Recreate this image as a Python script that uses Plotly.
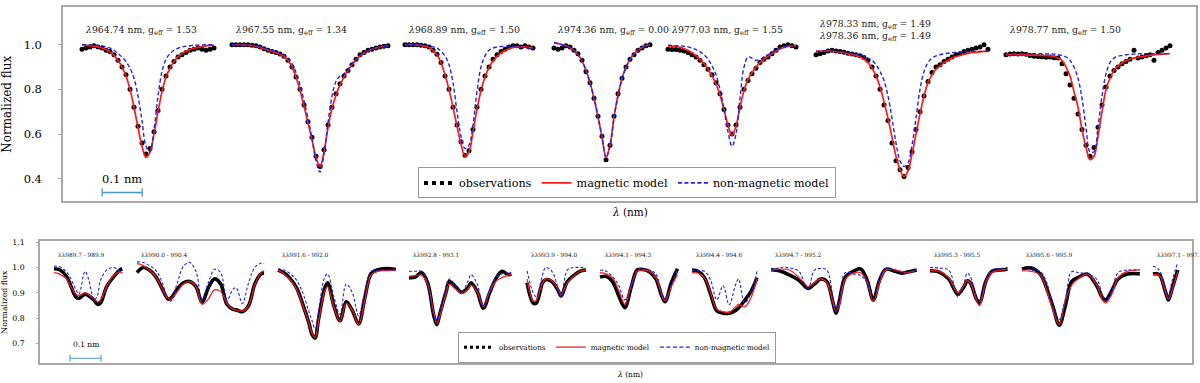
import plotly.graph_objects as go

# ---------------- DATA ----------------
# Top panel: individual lines, sampled every 0.01 nm from a start wavelength
TOP_LINES = [[("964.74", "1.53")], [("967.55", "1.34")], [("968.89", "1.50")],
             [("974.36", "0.00")], [("977.03", "1.55")],
             [("978.33", "1.49"), ("978.36", "1.49")], [("978.77", "1.50")]]
TOP_WL0 = [964.58, 967.335, 968.74, 974.2275, 976.87, 978.125, 978.5575]
TOP_STEP = 0.01

TOP_OBS = [
    [0.98, 0.985, 0.99, 0.995, 0.99, 0.985, 0.975, 0.97, 0.955, 0.93, 0.90, 0.865, 0.80, 0.72, 0.635, 0.56, 0.51,
     0.535, 0.61, 0.705, 0.80, 0.86, 0.90, 0.925, 0.945, 0.955, 0.965, 0.975, 0.98, 0.985, 0.98, 0.975, 0.98, 0.985],
    [1.0, 1.0, 1.0, 1.0, 1.0, 0.998, 0.995, 0.99, 0.982, 0.975, 0.97, 0.965, 0.958, 0.948, 0.93, 0.90, 0.855, 0.80,
     0.73, 0.655, 0.585, 0.50, 0.455, 0.53, 0.64, 0.72, 0.78, 0.825, 0.86, 0.885, 0.91, 0.935, 0.955, 0.965, 0.975,
     0.98, 0.985, 0.99, 0.993, 0.995],
    [1.0, 1.0, 1.0, 1.0, 0.998, 0.995, 0.99, 0.975, 0.957, 0.92, 0.86, 0.80, 0.72, 0.64, 0.565, 0.505, 0.525, 0.62,
     0.72, 0.80, 0.86, 0.90, 0.935, 0.955, 0.97, 0.98, 0.99, 0.995, 0.995, 0.99, 0.995, 0.99, 0.985],
    [0.985, 0.98, 0.985, 0.995, 0.99, 0.975, 0.96, 0.93, 0.88, 0.83, 0.76, 0.68, 0.59, 0.485, 0.55, 0.68, 0.78, 0.85,
     0.90, 0.935, 0.955, 0.975, 0.985, 0.995, 1.0],
    [0.98, 0.978, 0.978, 0.975, 0.972, 0.965, 0.955, 0.945, 0.93, 0.91, 0.89, 0.865, 0.83, 0.78, 0.71, 0.64, 0.60,
     0.64, 0.72, 0.80, 0.84, 0.87, 0.895, 0.92, 0.935, 0.945, 0.96, 0.975, 0.99, 0.995, 1.0, 0.995, 0.99],
    [0.955, 0.96, 0.965, 0.972, 0.975, 0.972, 0.97, 0.966, 0.962, 0.958, 0.955, 0.95, 0.943, 0.93, 0.90, 0.86, 0.80,
     0.73, 0.66, 0.56, 0.48, 0.44, 0.41, 0.45, 0.52, 0.62, 0.70, 0.77, 0.835, 0.875, 0.90, 0.91, 0.925, 0.935, 0.945,
     0.955, 0.96, 0.97, 0.975, 0.98, 0.985, 0.99, 1.0, 0.98],
    [0.955, 0.958, 0.96, 0.958, 0.96, 0.957, 0.952, 0.948, 0.947, 0.946, 0.944, 0.945, 0.942, 0.94, 0.915, 0.87, 0.82,
     0.76, 0.69, 0.62, 0.55, 0.50, 0.54, 0.63, 0.73, 0.81, 0.86, 0.885, 0.90, 0.915, 0.925, 0.935, 0.975, 0.94, 0.945,
     0.95, 0.955, 0.93, 0.965, 0.975, 0.985, 0.995],
]
TOP_MAG = [
    [1.0, 0.998, 0.996, 0.993, 0.99, 0.985, 0.978, 0.968, 0.952, 0.93, 0.90, 0.86, 0.80, 0.72, 0.63, 0.545, 0.495,
     0.52, 0.60, 0.70, 0.79, 0.855, 0.895, 0.925, 0.945, 0.96, 0.97, 0.978, 0.984, 0.988, 0.992, 0.995, 0.997, 0.998],
    [1.0, 1.0, 1.0, 0.999, 0.998, 0.996, 0.993, 0.988, 0.982, 0.976, 0.97, 0.964, 0.957, 0.947, 0.93, 0.90, 0.855,
     0.795, 0.725, 0.65, 0.575, 0.495, 0.455, 0.52, 0.63, 0.715, 0.775, 0.82, 0.855, 0.885, 0.91, 0.932, 0.95, 0.963,
     0.972, 0.979, 0.985, 0.989, 0.992, 0.994],
    [1.0, 1.0, 1.0, 0.999, 0.997, 0.993, 0.987, 0.975, 0.955, 0.92, 0.865, 0.80, 0.72, 0.635, 0.555, 0.50, 0.52, 0.61,
     0.71, 0.795, 0.855, 0.897, 0.927, 0.948, 0.963, 0.974, 0.982, 0.988, 0.99, 0.99, 0.99, 0.988, 0.985],
    [1.01, 1.005, 1.0, 0.995, 0.985, 0.972, 0.955, 0.928, 0.885, 0.83, 0.76, 0.675, 0.585, 0.495, 0.55, 0.675, 0.775,
     0.85, 0.90, 0.935, 0.958, 0.975, 0.987, 0.995, 1.0],
    [0.995, 0.994, 0.992, 0.988, 0.982, 0.974, 0.964, 0.95, 0.935, 0.915, 0.89, 0.86, 0.825, 0.775, 0.71, 0.64, 0.595,
     0.635, 0.72, 0.795, 0.845, 0.875, 0.90, 0.92, 0.935, 0.948, 0.96, 0.972, 0.982, 0.988, 0.993, 0.995, 0.996],
    [0.97, 0.971, 0.972, 0.972, 0.971, 0.969, 0.967, 0.964, 0.96, 0.956, 0.951, 0.945, 0.935, 0.92, 0.895, 0.86, 0.81,
     0.745, 0.67, 0.585, 0.50, 0.44, 0.41, 0.435, 0.51, 0.60, 0.69, 0.77, 0.83, 0.865, 0.89, 0.905, 0.92, 0.93, 0.94,
     0.947, 0.952, 0.957, 0.961, 0.964, 0.966, 0.968, 0.97, 0.97],
    [0.955, 0.955, 0.955, 0.955, 0.954, 0.954, 0.953, 0.953, 0.952, 0.952, 0.951, 0.95, 0.947, 0.94, 0.93, 0.90, 0.86,
     0.79, 0.72, 0.62, 0.54, 0.485, 0.50, 0.59, 0.70, 0.80, 0.85, 0.885, 0.905, 0.918, 0.928, 0.935, 0.94, 0.944,
     0.947, 0.95, 0.952, 0.954, 0.956, 0.958, 0.959, 0.96],
]
TOP_NONMAG = [
    [1.0, 1.0, 0.999, 0.998, 0.997, 0.995, 0.99, 0.985, 0.975, 0.96, 0.945, 0.925, 0.895, 0.85, 0.77, 0.66, 0.545,
     0.52, 0.62, 0.77, 0.88, 0.935, 0.96, 0.975, 0.984, 0.99, 0.993, 0.995, 0.997, 0.998, 0.999, 1.0, 1.0, 1.0],
    [1.0, 1.0, 1.0, 0.999, 0.998, 0.997, 0.995, 0.991, 0.986, 0.98, 0.975, 0.97, 0.963, 0.955, 0.94, 0.915, 0.875,
     0.82, 0.75, 0.67, 0.58, 0.48, 0.43, 0.51, 0.65, 0.77, 0.835, 0.86, 0.87, 0.89, 0.915, 0.935, 0.952, 0.964, 0.973,
     0.98, 0.985, 0.989, 0.992, 0.994],
    [1.0, 1.0, 1.0, 1.0, 0.999, 0.998, 0.996, 0.99, 0.985, 0.97, 0.95, 0.91, 0.83, 0.70, 0.59, 0.535, 0.55, 0.64, 0.79,
     0.90, 0.95, 0.975, 0.985, 0.99, 0.992, 0.993, 0.993, 0.993, 0.992, 0.99, 0.988, 0.985, 0.982],
    [1.01, 1.005, 1.0, 0.995, 0.985, 0.972, 0.955, 0.928, 0.885, 0.83, 0.762, 0.68, 0.59, 0.495, 0.545, 0.67, 0.77,
     0.845, 0.897, 0.933, 0.957, 0.975, 0.987, 0.995, 1.0],
    [0.998, 0.997, 0.996, 0.995, 0.993, 0.99, 0.985, 0.978, 0.968, 0.955, 0.935, 0.905, 0.865, 0.80, 0.71, 0.61, 0.545,
     0.60, 0.76, 0.90, 0.945, 0.94, 0.93, 0.935, 0.945, 0.955, 0.965, 0.975, 0.985, 0.99, 0.993, 0.995, 0.996],
    [0.97, 0.971, 0.972, 0.972, 0.971, 0.97, 0.969, 0.967, 0.965, 0.962, 0.958, 0.955, 0.95, 0.94, 0.93, 0.91, 0.88,
     0.84, 0.77, 0.67, 0.56, 0.48, 0.455, 0.47, 0.55, 0.67, 0.80, 0.88, 0.92, 0.94, 0.95, 0.955, 0.959, 0.962, 0.964,
     0.966, 0.967, 0.968, 0.969, 0.97, 0.97, 0.97, 0.97, 0.97],
    [0.96, 0.96, 0.96, 0.96, 0.96, 0.96, 0.96, 0.96, 0.96, 0.96, 0.959, 0.958, 0.958, 0.955, 0.952, 0.945, 0.93, 0.90,
     0.85, 0.76, 0.63, 0.52, 0.52, 0.63, 0.77, 0.87, 0.92, 0.94, 0.948, 0.952, 0.955, 0.957, 0.958, 0.959, 0.96, 0.96,
     0.96, 0.96, 0.96, 0.96, 0.96, 0.96],
]

# Bottom panel: blended windows; knots given in units of 0.01 nm from the window start
BOT_RANGES = ["989.7 - 989.9", "990.0 - 990.4", "991.6 - 992.0", "992.8 - 993.1", "993.9 - 994.0",
              "994.1 - 994.3", "994.4 - 994.6", "994.7 - 995.2", "995.3 - 995.5", "995.6 - 995.9",
              "997.1 - 997.1"]
BOT_WL0 = [989.69, 989.99, 991.61, 992.79, 993.86, 994.07, 994.39, 994.72, 995.27, 995.58, 997.07]
BOT_K = [
    [0, 2, 4, 5, 7, 8, 10, 11, 13, 14, 15, 17, 19, 21, 22],
    [0, 2, 4, 6, 8, 10, 11, 13, 15, 17, 19, 21, 23, 25, 27, 29, 31, 32, 34, 36, 38, 40, 41],
    [0, 2, 4, 6, 8, 10, 11, 12, 13, 15, 16, 18, 20, 22, 24, 26, 28, 30, 32, 35, 38],
    [0, 2, 4, 6, 8, 9, 10, 12, 13, 15, 17, 19, 20, 22, 24, 26, 28, 30, 32, 33],
    [0, 2, 3, 5, 6, 8, 10, 11, 13, 15, 17, 19],
    [0, 2, 4, 6, 8, 10, 12, 14, 16, 18, 20, 21, 23, 25],
    [0, 2, 4, 6, 8, 10, 12, 14, 15, 17, 19, 21],
    [0, 3, 6, 9, 11, 12, 14, 16, 18, 20, 21, 22, 24, 27, 29, 31, 33, 35, 37, 40, 42, 44, 47],
    [0, 3, 6, 8, 9, 11, 12, 13, 15, 16, 18, 20, 23, 25],
    [0, 3, 6, 8, 10, 12, 14, 16, 18, 21, 24, 26, 27, 29, 31, 34, 38],
    [0, 2, 4, 5, 6, 8],
]
BOT_OBS = [
    [0.995, 0.99, 0.965, 0.94, 0.885, 0.878, 0.895, 0.89, 0.87, 0.855, 0.86, 0.925, 0.96, 0.988, 0.995],
    [0.98, 1.0, 0.99, 0.965, 0.92, 0.876, 0.88, 0.915, 0.94, 0.945, 0.925, 0.862, 0.92, 0.955, 0.935, 0.855, 0.835,
     0.833, 0.826, 0.85, 0.935, 0.975, 0.978],
    [0.99, 0.978, 0.955, 0.92, 0.855, 0.78, 0.735, 0.722, 0.79, 0.915, 0.94, 0.85, 0.79, 0.865, 0.83, 0.778, 0.88,
     0.975, 0.99, 0.996, 0.992],
    [0.96, 0.962, 0.98, 0.94, 0.81, 0.775, 0.82, 0.905, 0.945, 0.925, 0.902, 0.92, 0.94, 0.905, 0.84, 0.9, 0.955,
     0.985, 0.972, 0.975],
    [0.94, 0.86, 0.86, 0.94, 0.952, 0.945, 0.91, 0.888, 0.945, 0.968, 0.985, 0.99],
    [0.962, 0.965, 0.945, 0.89, 0.842, 0.92, 0.99, 0.992, 0.982, 0.955, 0.885, 0.865, 0.94, 0.995],
    [0.99, 0.985, 0.96, 0.895, 0.83, 0.82, 0.82, 0.83, 0.84, 0.87, 0.905, 0.96],
    [0.991, 0.986, 0.97, 0.95, 0.925, 0.917, 0.935, 0.955, 0.945, 0.86, 0.82, 0.865, 0.962, 0.988, 0.994, 0.95, 0.872,
     0.95, 0.993, 0.985, 0.978, 0.982, 0.99],
    [0.987, 0.982, 0.955, 0.91, 0.895, 0.925, 0.947, 0.94, 0.875, 0.86, 0.945, 0.985, 0.99, 0.993],
    [0.994, 0.998, 0.972, 0.917, 0.845, 0.773, 0.85, 0.945, 0.96, 0.974, 0.93, 0.88, 0.872, 0.91, 0.955, 0.974, 0.975],
    [0.974, 0.972, 0.905, 0.872, 0.91, 0.99],
]
BOT_MAG = [
    [0.98, 0.973, 0.955, 0.935, 0.895, 0.89, 0.9, 0.895, 0.875, 0.865, 0.872, 0.925, 0.965, 0.983, 0.977],
    [1.015, 1.008, 0.99, 0.965, 0.92, 0.878, 0.877, 0.905, 0.935, 0.945, 0.925, 0.855, 0.875, 0.912, 0.905, 0.86,
     0.835, 0.833, 0.828, 0.85, 0.93, 0.98, 0.987],
    [0.99, 0.975, 0.95, 0.915, 0.85, 0.78, 0.74, 0.725, 0.78, 0.905, 0.925, 0.845, 0.788, 0.86, 0.83, 0.775, 0.87,
     0.97, 0.985, 0.988, 0.99],
    [0.965, 0.968, 0.97, 0.935, 0.82, 0.78, 0.81, 0.9, 0.935, 0.915, 0.898, 0.915, 0.93, 0.905, 0.845, 0.905, 0.945,
     0.96, 0.97, 0.975],
    [0.955, 0.868, 0.87, 0.94, 0.955, 0.948, 0.915, 0.892, 0.94, 0.965, 0.985, 0.99],
    [0.98, 0.975, 0.96, 0.91, 0.855, 0.925, 0.985, 0.99, 0.985, 0.96, 0.89, 0.87, 0.925, 0.972],
    [0.98, 0.978, 0.96, 0.9, 0.835, 0.826, 0.822, 0.845, 0.855, 0.845, 0.88, 0.955],
    [0.99, 0.994, 0.99, 0.96, 0.935, 0.925, 0.94, 0.955, 0.94, 0.86, 0.828, 0.85, 0.955, 0.98, 0.978, 0.945, 0.865,
     0.94, 0.99, 0.99, 0.985, 0.98, 0.99],
    [0.987, 0.985, 0.96, 0.915, 0.9, 0.93, 0.948, 0.94, 0.87, 0.85, 0.94, 0.98, 0.99, 0.993],
    [0.987, 0.985, 0.97, 0.91, 0.83, 0.776, 0.87, 0.93, 0.955, 0.974, 0.935, 0.87, 0.86, 0.895, 0.96, 0.985, 0.991],
    [0.972, 0.97, 0.905, 0.875, 0.905, 0.985],
]
BOT_NONMAG = [
    [1.006, 1.002, 0.983, 0.965, 0.915, 0.895, 0.985, 0.96, 0.872, 0.89, 0.95, 0.99, 1.0, 0.99, 0.978],
    [1.022, 1.02, 1.008, 0.99, 0.945, 0.875, 0.868, 0.94, 1.005, 1.02, 0.985, 0.87, 0.94, 0.993, 0.98, 0.87, 0.915,
     0.92, 0.858, 0.94, 1.0, 1.017, 1.015],
    [0.995, 0.99, 0.975, 0.95, 0.9, 0.825, 0.79, 0.755, 0.82, 0.96, 0.975, 0.885, 0.815, 0.935, 0.9, 0.81, 0.905,
     0.985, 0.99, 0.99, 0.99],
    [0.985, 0.985, 0.985, 0.94, 0.81, 0.785, 0.83, 0.925, 0.955, 0.93, 0.905, 0.945, 0.972, 0.935, 0.85, 0.91, 0.96,
     0.975, 0.978, 0.98],
    [0.987, 0.9, 0.885, 0.97, 1.0, 0.985, 0.92, 0.885, 0.99, 1.0, 1.0, 1.0],
    [0.99, 0.985, 0.965, 0.93, 0.872, 0.93, 0.99, 0.995, 0.99, 0.975, 0.895, 0.875, 0.93, 0.99],
    [0.99, 0.988, 0.985, 0.95, 0.872, 0.928, 0.853, 0.93, 0.955, 0.86, 0.9, 0.985],
    [0.987, 1.0, 0.998, 0.985, 0.93, 0.912, 0.99, 0.996, 0.99, 0.88, 0.827, 0.87, 0.98, 0.974, 0.968, 0.94, 0.872,
     0.96, 0.994, 0.99, 0.974, 0.98, 0.99],
    [1.0, 0.998, 0.99, 0.92, 0.883, 0.94, 0.978, 0.965, 0.885, 0.865, 0.95, 0.99, 0.997, 1.0],
    [0.994, 0.99, 0.983, 0.94, 0.85, 0.795, 0.875, 0.983, 0.98, 0.974, 0.955, 0.89, 0.865, 0.91, 0.98, 0.99, 0.99],
    [1.006, 0.99, 0.92, 0.878, 0.94, 1.02],
]
SCALE_NM = 0.1
LEGEND_NAMES = ["observations", "magnetic model", "non-magnetic model"]

# ---------------- LAYOUT (placement of the windows on the panel axes, nm) ----------------
TOP_SLOT = [0.0475, 0.4225, 0.855, 1.2275, 1.5125, 1.8825, 2.3575]
BOT_SLOT = [0.0452, 0.3129, 0.7677, 1.1903, 1.571, 1.8065, 2.1032, 2.3581, 2.871, 3.1677, 3.5903]
W, H = 1200, 383
FONT = "DejaVu Serif"
RED = "#ff1a1a"
BLUE = "#2222e6"
BAR = "#4d97d1"
FRAME = "#a8a8a8"

fig = go.Figure()

# ----- top panel -----
for j in range(len(TOP_OBS)):
    n = len(TOP_OBS[j])
    wl = [TOP_WL0[j] + TOP_STEP * i for i in range(n)]
    xs = [TOP_SLOT[j] + (w - TOP_WL0[j]) for w in wl]
    fig.add_trace(go.Scatter(x=xs, y=TOP_OBS[j], mode="markers", xaxis="x", yaxis="y",
                             marker=dict(color="black", size=5), showlegend=False, hoverinfo="skip"))
    fig.add_trace(go.Scatter(x=xs, y=TOP_MAG[j], mode="lines", xaxis="x", yaxis="y",
                             line=dict(color=RED, width=1.7, shape="spline"), showlegend=False))
    fig.add_trace(go.Scatter(x=xs, y=TOP_NONMAG[j], mode="lines", xaxis="x", yaxis="y",
                             line=dict(color=BLUE, width=1.4, dash="4px,2.5px", shape="spline"),
                             showlegend=False))
    lines = TOP_LINES[j]
    txt = "<br>".join("<i>λ</i>%s nm, g<sub>eff</sub> = %s" % (w, g) for w, g in lines)
    fig.add_annotation(x=TOP_SLOT[j] + 0.003, y=1.062, xref="x", yref="y", text=txt, showarrow=False,
                       xanchor="left", yanchor="middle", align="left",
                       font=dict(family=FONT, size=9.3, color="#222"))

# ----- bottom panel -----
for j in range(len(BOT_OBS)):
    wl = [BOT_WL0[j] + 0.01 * k for k in BOT_K[j]]
    xs = [BOT_SLOT[j] + (w - BOT_WL0[j]) for w in wl]
    fig.add_trace(go.Scatter(x=xs, y=BOT_OBS[j], mode="lines", xaxis="x2", yaxis="y2",
                             line=dict(color="black", width=3.6, shape="spline"), showlegend=False))
    fig.add_trace(go.Scatter(x=xs, y=BOT_MAG[j], mode="lines", xaxis="x2", yaxis="y2",
                             line=dict(color=RED, width=1.2, shape="spline"), showlegend=False))
    fig.add_trace(go.Scatter(x=xs, y=BOT_NONMAG[j], mode="lines", xaxis="x2", yaxis="y2",
                             line=dict(color=BLUE, width=1.1, dash="3px,2px", shape="spline"),
                             showlegend=False))
    fig.add_annotation(x=BOT_SLOT[j] + 0.008, y=1.05, xref="x2", yref="y2", text="λλ" + BOT_RANGES[j],
                       showarrow=False, xanchor="left", yanchor="middle",
                       font=dict(family=FONT, size=5.8, color="#222"))

# ----- scale bars -----
fig.add_trace(go.Scatter(x=[0.098, 0.098 + SCALE_NM], y=[0.338, 0.338], mode="lines+markers", xaxis="x", yaxis="y",
                         line=dict(color=BAR, width=1.3),
                         marker=dict(symbol="line-ns-open", size=6, line=dict(color=BAR, width=1.3)),
                         showlegend=False))
fig.add_annotation(x=0.098 + SCALE_NM / 2, y=0.398, xref="x", yref="y", text="%.1f nm" % SCALE_NM,
                   showarrow=False, font=dict(family=FONT, size=11.5, color="black"))
fig.add_trace(go.Scatter(x=[0.0968, 0.0968 + SCALE_NM], y=[0.6425, 0.6425], mode="lines+markers", xaxis="x2",
                         yaxis="y2", line=dict(color=BAR, width=1.1),
                         marker=dict(symbol="line-ns-open", size=5, line=dict(color=BAR, width=1.1)),
                         showlegend=False))
fig.add_annotation(x=0.0968 + SCALE_NM / 2, y=0.697, xref="x2", yref="y2", text="%.1f nm" % SCALE_NM,
                   showarrow=False, font=dict(family=FONT, size=7.5, color="black"))

# ----- axis titles -----
fig.add_annotation(x=630 / W, y=1 - 211 / H, xref="paper", yref="paper", text="<i>λ</i> (nm)", showarrow=False,
                   yanchor="middle", font=dict(family=FONT, size=10.5, color="black"))
fig.add_annotation(x=630 / W, y=1 - 374 / H, xref="paper", yref="paper", text="<i>λ</i> (nm)", showarrow=False,
                   yanchor="middle", font=dict(family=FONT, size=7.5, color="black"))

# ----- legend entries -----
for leg, xa, ya, wobs, wl_ in (("legend", "x", "y", 4, 1.7), ("legend2", "x2", "y2", 3, 1.2)):
    fig.add_trace(go.Scatter(x=[None], y=[None], mode="lines", name=LEGEND_NAMES[0], xaxis=xa, yaxis=ya,
                             line=dict(color="black", width=wobs, dash="dot"), legend=leg))
    fig.add_trace(go.Scatter(x=[None], y=[None], mode="lines", name=LEGEND_NAMES[1], xaxis=xa, yaxis=ya,
                             line=dict(color=RED, width=wl_), legend=leg))
    fig.add_trace(go.Scatter(x=[None], y=[None], mode="lines", name=LEGEND_NAMES[2], xaxis=xa, yaxis=ya,
                             line=dict(color=BLUE, width=wl_, dash="4px,2.5px"), legend=leg))

frame = dict(showline=True, mirror=True, linecolor=FRAME, linewidth=1.5, showgrid=False, zeroline=False)
fig.update_layout(
    width=W, height=H, margin=dict(l=0, r=0, t=0, b=0),
    paper_bgcolor="white", plot_bgcolor="white",
    font=dict(family=FONT, color="black"),
    xaxis=dict(domain=[63 / W, 1196 / W], range=[0, 1133 / 400], showticklabels=False, ticks="",
               anchor="y", **frame),
    yaxis=dict(domain=[1 - 200 / H, 1 - 4 / H], range=[0.298, 1.169], tickvals=[0.4, 0.6, 0.8, 1.0],
               tickformat=".1f", ticks="outside", ticklen=3, tickcolor=FRAME, ticklabelstandoff=14,
               tickfont=dict(size=11.5), anchor="x",
               title=dict(text="Normalized flux", standoff=9, font=dict(size=12)), **frame),
    xaxis2=dict(domain=[40 / W, 1192 / W], range=[0, 1152 / 310], showticklabels=False, ticks="",
                anchor="y2", **frame),
    yaxis2=dict(domain=[1 - 363 / H, 1 - 240 / H], range=[0.623, 1.104], tickvals=[0.7, 0.8, 0.9, 1.0, 1.1],
                tickformat=".1f", ticks="outside", ticklen=2, tickcolor=FRAME, ticklabelstandoff=10,
                tickfont=dict(size=7.8), anchor="x2",
                title=dict(text="Normalized flux", standoff=7, font=dict(size=7.8)), **frame),
    legend=dict(orientation="h", x=627 / W, xanchor="center", y=1 - 197 / H, yanchor="bottom",
                bgcolor="white", bordercolor="#999", borderwidth=1, font=dict(size=11.2), itemwidth=30,
                tracegroupgap=0),
    legend2=dict(orientation="h", x=617 / W, xanchor="center", y=1 - 362.5 / H, yanchor="bottom",
                 bgcolor="white", bordercolor="#999", borderwidth=1, font=dict(size=7.2), itemwidth=30),
)

fig.write_html("out.html", config={"displayModeBar": False},
               post_script="document.body.style.margin='0px';")
